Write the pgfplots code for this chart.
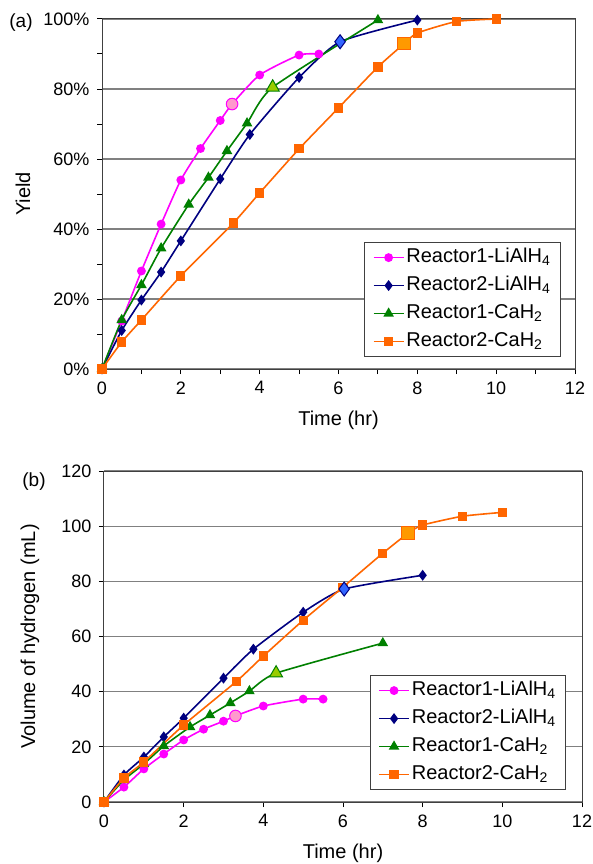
\documentclass[border=0pt]{standalone}
\usepackage{fontspec}
\setmainfont{Liberation Sans}
\usepackage{pgfplots}
\pgfplotsset{compat=1.18}

\definecolor{cpink}{HTML}{FF00FF}
\definecolor{cnavy}{HTML}{000080}
\definecolor{cgreen}{HTML}{008000}
\definecolor{corange}{HTML}{FF6600}
\definecolor{bpink}{HTML}{FF99CC}
\definecolor{bblue}{HTML}{3366FF}
\definecolor{bgreen}{HTML}{99CC00}
\definecolor{borange}{HTML}{FF9900}
\definecolor{gridc}{HTML}{808080}

\pgfplotsset{
  rxn/.style={
    scale only axis, clip=false,
    xmin=0, xmax=12, xtick={0,2,...,12},
    tick align=outside, tick pos=left,
    major tick length=5pt, minor tick length=5pt,
    every tick/.style={black, line width=1pt},
    axis line style={black!75, line width=1pt},
    ymajorgrids, grid style={gridc, line width=1.2pt},
    tick label style={font=\fontsize{18}{21}\selectfont},
    xticklabel style={yshift=-4pt},
    yticklabel style={xshift=-4pt},
    /pgf/number format/assume math mode=true,
    label style={font=\fontsize{20}{24}\selectfont},
    legend style={font=\fontsize{20}{24}\selectfont, draw=black!75, line width=1pt,
      fill=white, inner xsep=8pt, inner ysep=1pt, row sep=0pt,
      nodes={inner xsep=2pt, inner ysep=4pt, text height=15pt, text depth=5pt}},
    legend cell align=left,
    legend image code/.code={
      \draw[mark repeat=2, mark phase=2] plot coordinates {(0pt,0pt) (15pt,0pt) (30pt,0pt)};},
    every axis plot/.append style={line width=1.6pt, smooth, tension=0.35},
  },
  spink/.style={cpink, mark=*, mark size=3.6pt, mark options={fill=cpink}},
  snavy/.style={cnavy, mark=diamond*, mark size=4.2pt, mark options={fill=cnavy}},
  sgreen/.style={cgreen, mark=triangle*, mark size=4.6pt, mark options={fill=cgreen}},
  sorange/.style={corange, mark=square*, mark size=3.8pt, mark options={fill=corange}},
}

\begin{document}
\begin{tikzpicture}
\useasboundingbox (0,0) rectangle (593pt,-864pt);

% (a) yield
\begin{axis}[rxn,
  at={(102pt,-369pt)}, anchor=south west,
  width=473pt, height=350pt,
  ymin=0, ymax=100, ytick={0,20,...,100},
  yticklabels={0\%,20\%,40\%,60\%,80\%,100\%},
  minor x tick num=1, minor y tick num=1,
  xlabel={Time (hr)}, ylabel={Yield},
  xlabel style={at={(axis description cs:0.5,-0.146)}, anchor=center},
  ylabel style={at={(axis description cs:-0.167,0.5)}, anchor=center},
  legend style={at={(0.970,0.034)}, anchor=south east},
]
\addplot[spink] coordinates {(0,0)(0.5,13.7)(1,28)(1.5,41.4)(2,54)(2.5,63)(3,71)(3.3,75.7)(4,84)(5,89.7)(5.5,90)};
\addlegendentry{Reactor1-LiAlH\textsubscript{4}}
\addplot[snavy] coordinates {(0,0)(0.5,11)(1,19.7)(1.5,27.7)(2,36.6)(3,54.3)(3.75,67)(5,83.3)(6.04,93.5)(8,99.7)};
\addlegendentry{Reactor2-LiAlH\textsubscript{4}}
\addplot[sgreen] coordinates {(0,0)(0.5,14)(1,24)(1.5,34.5)(2.2,47)(2.7,54.7)(3.17,62.3)(3.68,70.2)(4.33,80.5)(7,99.7)};
\addlegendentry{Reactor1-CaH\textsubscript{2}}
\addplot[sorange] coordinates {(0,0)(0.5,7.7)(1,14)(2,26.6)(3.33,41.7)(4,50.3)(5,62.9)(6,74.6)(7,86.3)(7.67,93)(8,96)(9,99.3)(10,100)};
\addlegendentry{Reactor2-CaH\textsubscript{2}}
% highlighted points
\addplot[only marks, mark=*, mark size=5.8pt, draw=cpink, fill=bpink, line width=1pt, forget plot] coordinates {(3.3,75.7)};
\addplot[only marks, mark=diamond*, mark size=7pt, draw=cnavy, fill=bblue, line width=1pt, forget plot] coordinates {(6.04,93.5)};
\addplot[only marks, mark=triangle*, mark size=7.5pt, draw=cgreen, fill=bgreen, line width=1pt, forget plot] coordinates {(4.33,80.5)};
\addplot[only marks, mark=square*, mark size=6.4pt, draw=corange, fill=borange, line width=1pt, forget plot] coordinates {(7.67,93)};
\end{axis}
\node[font=\fontsize{19}{22}\selectfont] at (21pt,-23pt) {(a)};

% (b) volume
\begin{axis}[rxn,
  at={(104pt,-802pt)}, anchor=south west,
  width=478pt, height=331pt,
  ymin=0, ymax=120, ytick={0,20,...,120},
  xlabel={Time (hr)}, ylabel={Volume of hydrogen (mL)},
  xlabel style={at={(axis description cs:0.5,-0.154)}, anchor=center},
  ylabel style={at={(axis description cs:-0.155,0.5)}, anchor=center},
  legend style={at={(0.967,0.036)}, anchor=south east},
]
\addplot[spink] coordinates {(0,0)(0.5,5.4)(1,12)(1.5,17.4)(2,22.5)(2.5,26.4)(3,29.3)(3.3,31.2)(4,34.8)(5,37.3)(5.5,37.3)};
\addlegendentry{Reactor1-LiAlH\textsubscript{4}}
\addplot[snavy] coordinates {(0,0)(0.5,9.8)(1,16.3)(1.5,23.6)(2,30.4)(3,44.9)(3.75,55.4)(5,68.8)(6.03,77.2)(8,82.2)};
\addlegendentry{Reactor2-LiAlH\textsubscript{4}}
\addplot[sgreen] coordinates {(0,0)(0.5,8)(1,13.8)(1.5,20.3)(2.16,27.2)(2.66,31.5)(3.17,35.9)(3.65,40.2)(4.32,46.7)(7,57.6)};
\addlegendentry{Reactor1-CaH\textsubscript{2}}
\addplot[sorange] coordinates {(0,0)(0.5,8.7)(1,14.5)(2,27.9)(3.33,43.8)(4,52.9)(5,65.9)(6,77.9)(7,90.2)(7.64,97.5)(8,100.4)(9,103.6)(10,105)};
\addlegendentry{Reactor2-CaH\textsubscript{2}}
\addplot[only marks, mark=*, mark size=5.8pt, draw=cpink, fill=bpink, line width=1pt, forget plot] coordinates {(3.3,31.2)};
\addplot[only marks, mark=diamond*, mark size=7pt, draw=cnavy, fill=bblue, line width=1pt, forget plot] coordinates {(6.03,77.2)};
\addplot[only marks, mark=triangle*, mark size=7.5pt, draw=cgreen, fill=bgreen, line width=1pt, forget plot] coordinates {(4.32,46.7)};
\addplot[only marks, mark=square*, mark size=6.4pt, draw=corange, fill=borange, line width=1pt, forget plot] coordinates {(7.64,97.5)};
\end{axis}
\node[font=\fontsize{19}{22}\selectfont] at (34pt,-482pt) {(b)};
\end{tikzpicture}
\end{document}
